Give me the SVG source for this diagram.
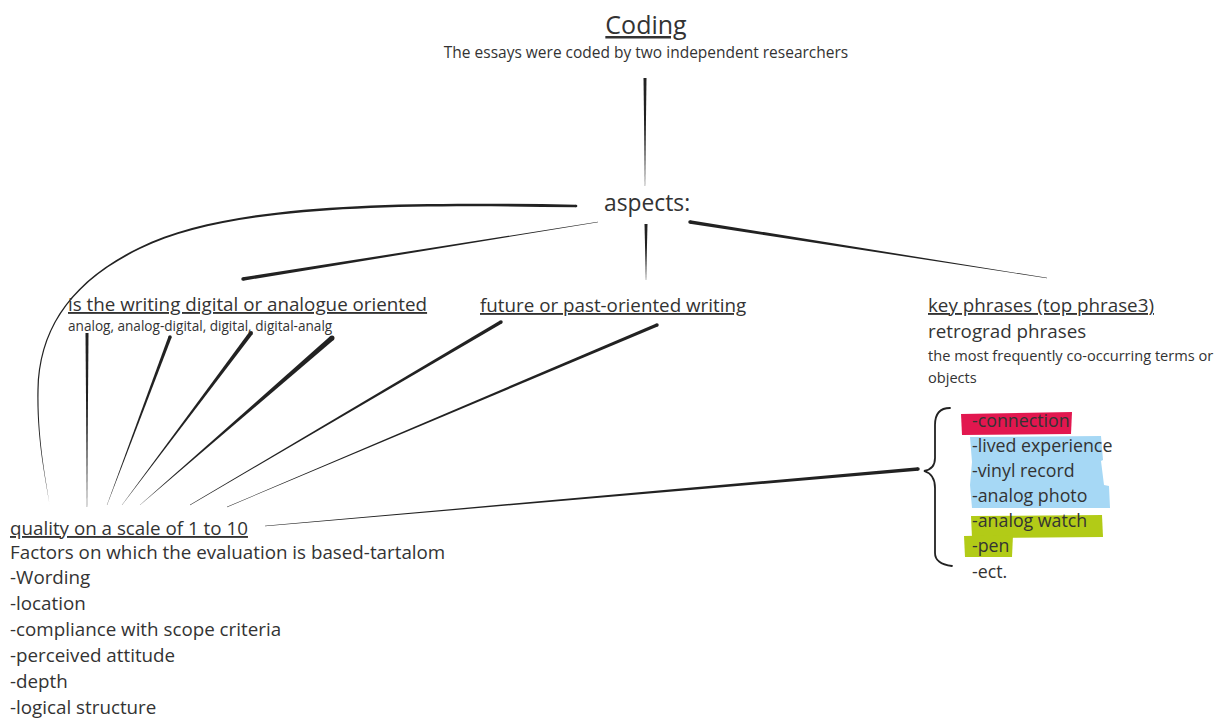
<svg xmlns="http://www.w3.org/2000/svg" width="1223" height="720" viewBox="0 0 1223 720">
  <style>
    text { font-family: "Open Sans", "Noto Sans", sans-serif; fill: #333; }
    .u { text-decoration: underline; }
    .title { font-size: 25px; }
    .sub { font-size: 15.5px; }
    .desc { font-size: 14.6px; }
    .head { font-size: 18.8px; }
    .small { font-size: 13.6px; }
    .item { font-size: 17.8px; }
    .ink { fill: #222; }
    .brace { fill: none; stroke: #222; stroke-width: 1.8; stroke-linecap: round; }
  </style>
  <rect width="1223" height="720" fill="#fff"/>

  <!-- tapered ink strokes -->
  <g id="connectors" class="ink">
    <polygon points="643.5,78 646.5,78 645.15,186 644.85,186"/>
    <path d="M576,204.7 C400,201.7 229.6,202.2 139.6,247.2 C69.5,281.3 38.4,330 37.4,390 C36.5,440 45.8,480 50,507 C46.2,480 37.5,440 38.6,390 C39.6,330 70.5,282.7 140.4,248.8 C230.4,204.8 400,204.3 576,207.3 Z"/>
    <circle cx="576" cy="206" r="1.3"/>
    <polygon points="598,221.85 598,222.15 243.3,280.7 242.7,277.3"/>
    <circle cx="243" cy="279" r="1.75"/>
    <polygon points="644.5,224 647.5,224 646.15,280 645.85,280"/>
    <polygon points="690.27,220.27 1047.02,277.85 1046.98,278.15 689.73,223.73"/>
    <circle cx="690" cy="222" r="1.75"/>
    <polygon points="85.5,333 88.5,333 87.15,507 86.85,507"/>
    <polygon points="171.6,337.6 107.1,505.05 106.9,504.95 168.4,336.4"/>
    <circle cx="170" cy="337" r="1.75"/>
    <polygon points="252.6,334.2 122.1,505.1 121.9,504.9 249.4,331.8"/>
    <circle cx="251" cy="333" r="2"/>
    <polygon points="333.64,339.89 140.1,505.11 139.9,504.89 330.36,336.11"/>
    <circle cx="332" cy="338" r="2.5"/>
    <polygon points="501.89,323.51 190.08,505.13 189.92,504.87 500.11,320.49"/>
    <circle cx="501" cy="322" r="1.75"/>
    <polygon points="657.68,326.61 227.06,507.14 226.94,506.86 656.32,323.39"/>
    <circle cx="657" cy="325" r="1.75"/>
    <polygon points="265.01,526.15 264.99,525.85 917.85,467.26 918.15,470.74"/>
    <circle cx="918" cy="469" r="1.75"/>
    <path class="brace" d="M950,408 C939,408 935,415 935,425 L935,458 C935,466 930,470 924,471 C931,473 935,478 935,488 L935,553 C935,562 944,565 952,566"/>
  </g>

  <g id="coding">
    <text class="title u" x="646" y="34" text-anchor="middle">Coding</text>
    <text class="sub" x="646" y="58" text-anchor="middle">The essays were coded by two independent researchers</text>
  </g>

  <g id="aspects">
    <text x="604" y="211" font-size="22.8">aspects:</text>
  </g>

  <g id="orientation">
    <text class="head u" x="68" y="311">is the writing digital or analogue oriented</text>
    <text class="small" x="68" y="331">analog, analog-digital, digital, digital-analg</text>
  </g>

  <g id="time">
    <text class="head u" x="480" y="312">future or past-oriented writing</text>
  </g>

  <g id="key-phrases">
    <text class="head u" x="928" y="312">key phrases (top phrase3)</text>
    <text class="head" x="928" y="338">retrograd phrases</text>
    <text class="desc" x="928" y="361">the most frequently co-occurring terms or</text>
    <text class="desc" x="928" y="383">objects</text>
  </g>

  <g id="phrase-list">
    <polygon points="961,414 1072,412 1071,434 962,435" fill="#e2174f"/>
    <polygon points="970,437 1101,436 1103,460 1101,461 1104,485 1109,486 1110,508 972,508 970,485 972,462" fill="#a6d8f5"/>
    <polygon points="971,516 1102,515 1103,537 972,538" fill="#b2cb17"/>
    <polygon points="964,536 1013,535 1012,557 965,557" fill="#b2cb17"/>
    <text class="item" x="972" y="427">-connection</text>
    <text class="item" x="972" y="452">-lived experience</text>
    <text class="item" x="972" y="477">-vinyl record</text>
    <text class="item" x="972" y="502">-analog photo</text>
    <text class="item" x="972" y="527">-analog watch</text>
    <text class="item" x="972" y="552">-pen</text>
    <text class="item" x="972" y="578">-ect.</text>
  </g>

  <g id="quality">
    <text class="head u" x="10" y="535">quality on a scale of 1 to 10</text>
    <text class="head" x="10" y="559">Factors on which the evaluation is based-tartalom</text>
    <text class="head" x="10" y="584">-Wording</text>
    <text class="head" x="10" y="610">-location</text>
    <text class="head" x="10" y="636">-compliance with scope criteria</text>
    <text class="head" x="10" y="662">-perceived attitude</text>
    <text class="head" x="10" y="688">-depth</text>
    <text class="head" x="10" y="714">-logical structure</text>
  </g>
</svg>
